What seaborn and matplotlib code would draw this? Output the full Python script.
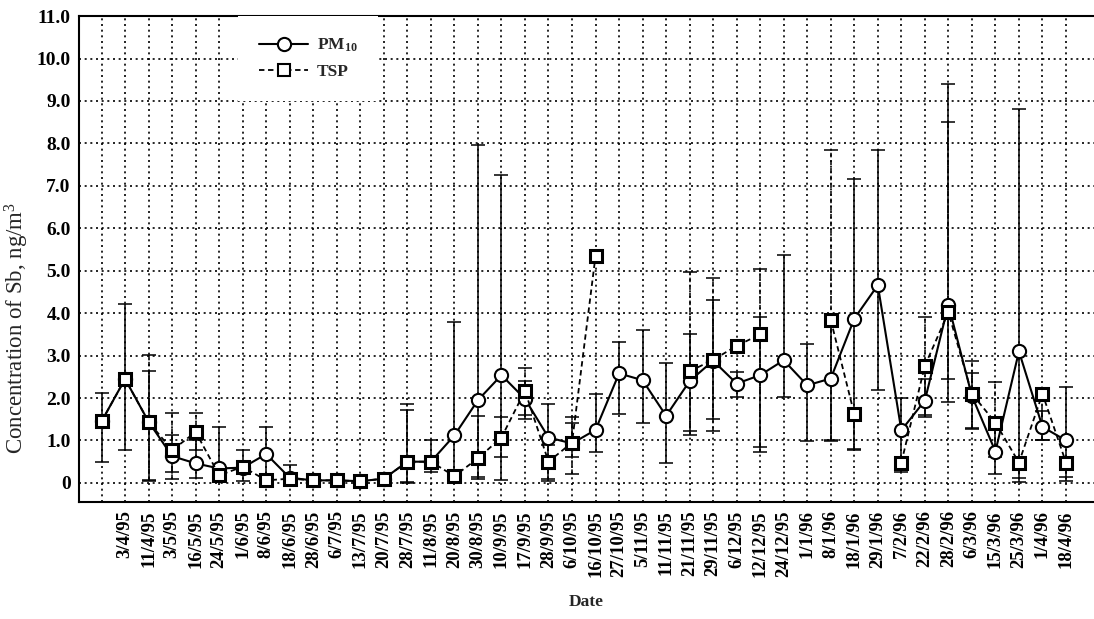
import numpy as np
import pandas as pd
import matplotlib
matplotlib.use("Agg")
import matplotlib.pyplot as plt
import seaborn as sns
from matplotlib.lines import Line2D
from matplotlib.ticker import FuncFormatter

nan = np.nan

# sampling dates (the first sample position carries no label in the original)
dates = ["3/4/95", "11/4/95", "3/5/95", "16/5/95", "24/5/95", "1/6/95", "8/6/95",
         "18/6/95", "28/6/95", "6/7/95", "13/7/95", "20/7/95", "28/7/95", "11/8/95",
         "20/8/95", "30/8/95", "10/9/95", "17/9/95", "28/9/95", "6/10/95", "16/10/95",
         "27/10/95", "5/11/95", "11/11/95", "21/11/95", "29/11/95", "6/12/95",
         "12/12/95", "24/12/95", "1/1/96", "8/1/96", "18/1/96", "29/1/96", "7/2/96",
         "22/2/96", "28/2/96", "6/3/96", "15/3/96", "25/3/96", "1/4/96", "18/4/96"]

# PM10 mean and range (low / high end of the bar)
pm10 = [1.45, 2.45, 1.44, 0.63, 0.46, 0.34, 0.36, 0.68, 0.12, 0.06, 0.06, 0.04, 0.10, 0.50,
        0.50, 1.12, 1.95, 2.54, 1.98, 1.07, 0.93, 1.25, 2.58, 2.42, 1.58, 2.40, 2.88, 2.34,
        2.54, 2.89, 2.30, 2.46, 3.87, 4.66, 1.24, 1.94, 4.20, 2.05, 0.74, 3.10, 1.32, 1.00]
pm10_lo = [0.50, 0.77, 0.08, 0.26, 0.12, 0.02, 0.05, 0.03, 0.02, nan, nan, nan, nan, 0.02,
           0.26, 0.02, 0.10, 0.06, 1.50, 0.10, 0.60, 0.74, 1.62, 1.40, 0.48, 1.22, 1.50, 2.02,
           0.72, 2.02, 0.98, 0.98, 0.80, 2.18, 0.30, 1.56, 1.90, 1.27, 0.22, 0.12, 1.00, 0.14]
pm10_hi = [2.12, 4.22, 2.64, 1.13, 1.00, 1.32, 0.77, 1.32, 0.42, nan, nan, nan, nan, 1.72,
           1.00, 3.78, 7.96, 7.25, 2.40, 1.86, 1.42, 2.10, 3.32, 3.60, 2.82, 3.50, 4.32, 2.62,
           3.90, 5.38, 3.28, 3.90, 7.17, 7.85, 2.00, 2.45, 9.40, 2.60, 1.30, 8.80, 1.70, 2.26]

# TSP mean and range
tsp = [1.45, 2.45, 1.44, 0.77, 1.20, 0.18, 0.38, 0.06, 0.10, 0.06, 0.06, 0.04, 0.10, 0.50,
       0.50, 0.16, 0.58, 1.07, 2.17, 0.50, 0.95, 5.35, nan, nan, nan, 2.63, 2.90, 3.23,
       3.50, nan, nan, 3.84, 1.62, nan, 0.48, 2.76, 4.02, 2.10, 1.42, 0.48, 2.10, 0.48]
tsp_lo = [nan, nan, 0.05, 0.10, 0.78, nan, nan, nan, nan, nan, nan, nan, nan, 0.00,
          nan, nan, 0.15, 0.62, 1.60, 0.05, 0.22, nan, nan, nan, nan, 1.12, 1.22, nan,
          0.85, nan, nan, 1.00, 0.78, nan, 0.25, 1.60, 2.45, 1.30, 0.60, 0.02, 1.00, 0.05]
tsp_hi = [nan, nan, 3.02, 1.64, 1.64, nan, nan, nan, nan, nan, nan, nan, nan, 1.87,
          nan, nan, 1.58, 1.56, 2.70, 0.90, 1.55, nan, nan, nan, nan, 4.98, 4.82, nan,
          5.05, nan, nan, 7.85, 1.62, nan, 0.48, 3.90, 8.50, 2.88, 2.38, 0.48, 2.10, 0.48]

# ---- styling ----
sns.set_style("white")
plt.rcParams["font.family"] = ["Liberation Serif", "DejaVu Serif"]
plt.rcParams["mathtext.default"] = "regular"

x = np.arange(len(pm10))
df = pd.DataFrame({"pos": x, "pm10": pm10, "tsp": tsp})
df["seg"] = df["tsp"].isna().cumsum()  # break the TSP line where samples are missing

fig = plt.figure(figsize=(10.94, 6.19), dpi=100)
ax = fig.add_axes([0.0722, 0.189, 0.928, 0.785])

ax.grid(True, color="black", linestyle=(0, (1.2, 2.2)), linewidth=1.2)
ax.set_axisbelow(True)


def draw_bars(mean, lo, hi, ls):
    m = np.asarray(mean, float)
    l = np.asarray(lo, float)
    h = np.asarray(hi, float)
    ok = ~(np.isnan(m) | np.isnan(l) | np.isnan(h))
    eb = ax.errorbar(x[ok], m[ok], yerr=[m[ok] - l[ok], h[ok] - m[ok]], fmt="none",
                     ecolor="black", elinewidth=1.1, capsize=5, capthick=1.1, zorder=3)
    eb[2][0].set_linestyle(ls)


draw_bars(pm10, pm10_lo, pm10_hi, "-")
draw_bars(tsp, tsp_lo, tsp_hi, (0, (3, 2)))

sns.lineplot(data=df, x="pos", y="pm10", color="black", linewidth=1.5,
             marker="o", markersize=9.5, markerfacecolor="white",
             markeredgecolor="black", markeredgewidth=1.5, ax=ax, zorder=4)
sns.lineplot(data=df.dropna(subset=["tsp"]), x="pos", y="tsp", units="seg",
             estimator=None, color="black", linewidth=1.3, linestyle=(0, (3, 2)),
             marker="s", markersize=8, markerfacecolor="white",
             markeredgecolor="black", markeredgewidth=2.2, ax=ax, zorder=5)

ax.set_xlim(-0.96, 42.2)
ax.set_ylim(-0.45, 11.0)
ax.set_xticks(x)
ax.set_xticklabels([""] + dates, rotation=90, fontweight="bold", fontsize=13.5)
ax.set_yticks(range(12))
ax.yaxis.set_major_formatter(FuncFormatter(lambda v, p: "0" if v == 0 else f"{v:.1f}"))
for t in ax.get_yticklabels():
    t.set_fontweight("bold")
    t.set_fontsize(14)
ax.tick_params(direction="in", length=4, width=1, colors="black", pad=6)
for s in ["left", "bottom", "top"]:
    ax.spines[s].set_color("black")
    ax.spines[s].set_linewidth(1.5)
ax.spines["right"].set_visible(False)

ax.set_xlabel("Date", fontweight="bold", fontsize=12.5, labelpad=12)
ax.set_ylabel("")
fig.text(17 / 1094, 0.47, "Concentration of Sb, ng/m$^3$", rotation=90,
         ha="center", va="center", fontsize=16.5)

handles = [
    Line2D([], [], color="black", linewidth=1.5, marker="o", markersize=9.5,
           markerfacecolor="white", markeredgecolor="black", markeredgewidth=1.5),
    Line2D([], [], color="black", linewidth=1.3, linestyle=(0, (3, 2)), marker="s",
           markersize=8, markerfacecolor="white", markeredgecolor="black",
           markeredgewidth=1.5),
]
leg = ax.legend(handles, ["PM$_{10}$", "TSP"], loc="upper left",
                bbox_to_anchor=(0.157, 1.0), borderaxespad=0, frameon=True,
                fancybox=False, framealpha=1, facecolor="white", edgecolor="none",
                prop={"weight": "bold", "size": 12.5}, handlelength=2.8,
                handletextpad=0.5, numpoints=1, borderpad=1.2, labelspacing=0.55)

fig.savefig("out.png", dpi=100, facecolor="white")
